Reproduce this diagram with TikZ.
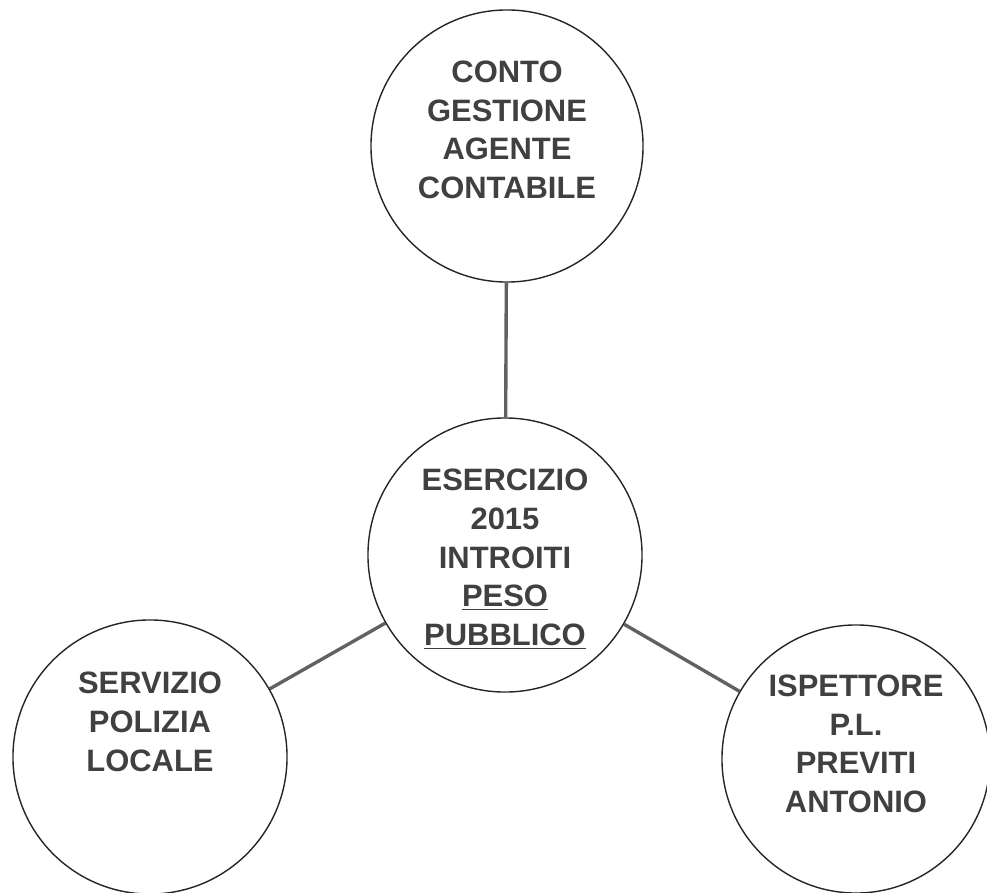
\documentclass[tikz,border=0pt]{standalone}
\usepackage{fontspec}
\setmainfont{Liberation Sans}
\usetikzlibrary{positioning}

\begin{document}
\begin{tikzpicture}[x=0.025cm,y=-0.025cm,
  bolla/.style={circle,draw=black!85,line width=1pt,inner sep=0pt},
  testo/.style={align=center,text=black!75,font=\fontsize{22}{27.5}\selectfont\bfseries},
  legame/.style={draw=black!62,line width=2.4pt}]
  \useasboundingbox (0,0) rectangle (987,893);

  \node[bolla,minimum size=6.8cm]   (conto)     at (507,146) {};
  \node[bolla,minimum size=6.85cm]  (esercizio) at (505,555) {};
  \node[bolla,minimum size=6.85cm]  (servizio)  at (150,757) {};
  \node[bolla,minimum size=6.7cm]   (ispettore) at (856,759) {};

  \node[testo,yshift=0.4cm]    (conto-t)     at (conto)     {CONTO\\GESTIONE\\AGENTE\\CONTABILE};
  \node[testo,yshift=-0.1cm]   (esercizio-t) at (esercizio) {ESERCIZIO\\2015\\INTROITI\\\underline{PESO}\\\underline{PUBBLICO}};
  \node[testo,yshift=0.875cm]  (servizio-t)  at (servizio)  {SERVIZIO\\POLIZIA\\LOCALE};
  \node[testo,yshift=0.375cm]  (ispettore-t) at (ispettore) {ISPETTORE\\P.L.\\PREVITI\\ANTONIO};

  \path[legame] (esercizio) edge (conto)
                            edge (servizio)
                            edge (ispettore);
\end{tikzpicture}
\end{document}
